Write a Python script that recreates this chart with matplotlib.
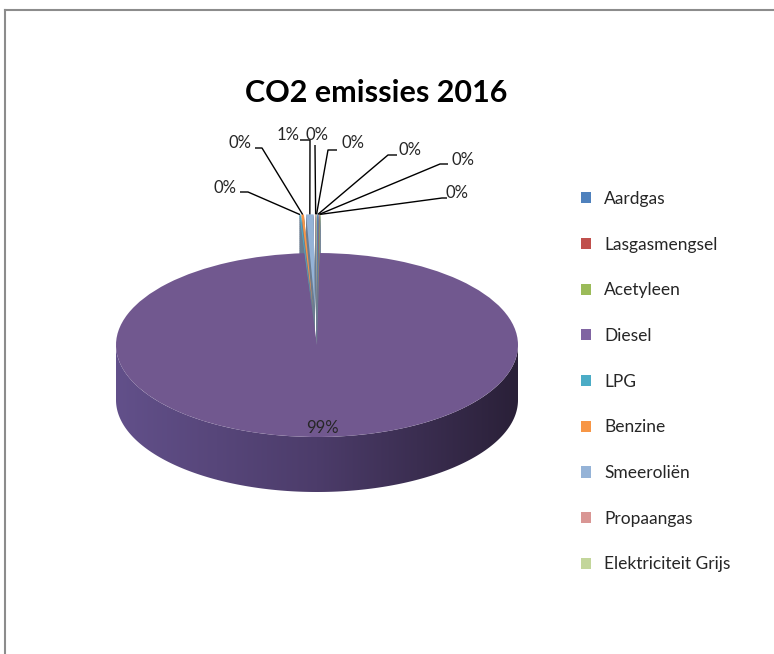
import numpy as np
import matplotlib
matplotlib.use('Agg')
import matplotlib.pyplot as plt
from matplotlib.transforms import Affine2D
from matplotlib.patches import Polygon, Patch
from matplotlib.lines import Line2D
from matplotlib.colors import to_rgb, LinearSegmentedColormap

plt.rcParams['font.family'] = ['Lato', 'DejaVu Sans']

# data
categories = ['Aardgas', 'Lasgasmengsel', 'Acetyleen', 'Diesel', 'LPG',
              'Benzine', 'Smeeroliën', 'Propaangas', 'Elektriciteit Grijs']
values = [0.1, 0.05, 0.05, 98.8, 0.1, 0.2, 0.6, 0.05, 0.05]
colors = ['#4F81BD', '#C0504D', '#9BBB59', '#8064A2', '#4BACC6',
          '#F79646', '#95B3D7', '#D99694', '#C3D69B']
title = 'CO2 emissies 2016'

total = sum(values)
pct_labels = [f'{round(v / total * 100):.0f}%' for v in values]

# layout (pixels, origin bottom-left)
W, H = 774, 654
cx, cy = 317, H - 345          # pie centre
rx, ry = 201, 92               # ellipse radii of top face
depth = 55                     # thickness of the pie
explode = [0.0 if v > 50 else 0.42 for v in values]

# label placement for the small slices (text centre, line start, elbow) in screen px (y down)
label_layout = {
    'LPG':        ((225, 188), (240, 192), (248, 192)),
    'Benzine':    ((240, 143), (255, 148), (262, 148)),
    'Smeeroliën': ((288, 135), (300, 140), (310, 140)),
    'Propaangas': ((317, 135), (315, 145), (315, 146)),
    'Elektriciteit Grijs': ((353, 143), (337, 150), (328, 150)),
    'Aardgas':    ((410, 150), (397, 155), (388, 155)),
    'Lasgasmengsel': ((463, 160), (448, 164), (440, 164)),
    'Acetyleen':  ((457, 193), (447, 198), (442, 198)),
}


def shade(c, f):
    r, g, b = to_rgb(c)
    return (r * f, g * f, b * f)


fig = plt.figure(figsize=(W / 100, H / 100), dpi=100)
ax = fig.add_axes([0, 0, 1, 1])


def draw_pie(dy, face, z):
    wedges, _ = ax.pie(values, explode=explode, startangle=90, counterclock=False,
                       colors=face, wedgeprops=dict(linewidth=0))
    tf = Affine2D().scale(rx, ry).translate(cx, cy - dy) + ax.transData
    for w in wedges:
        w.set_transform(tf)
        w.set_zorder(z)
    return wedges, tf


# side walls of the small (exploded) slices, grey-blue like the reference
side_cols = ['#6B7C90'] * len(values)
for k in range(depth, 0, -2):
    ws, _ = draw_pie(k, side_cols, 1)
    ws[3].set_visible(False)

# front side of the big slice with a horizontal gradient
t = np.linspace(np.pi, 2 * np.pi, 200)
top_edge = np.column_stack([cx + rx * np.cos(t), cy + ry * np.sin(t)])
bot_edge = np.column_stack([cx + rx * np.cos(t[::-1]), cy - depth + ry * np.sin(t[::-1])])
side_poly = Polygon(np.vstack([top_edge, bot_edge]), closed=True, facecolor='none',
                    edgecolor='none', zorder=2)
ax.add_patch(side_poly)
cmap = LinearSegmentedColormap.from_list('side', ['#62508A', '#4C3C6A', '#2A2038'])
grad = np.linspace(0, 1, 256).reshape(1, -1)
im = ax.imshow(grad, cmap=cmap, extent=(cx - rx, cx + rx, cy - ry - depth, cy),
               aspect='auto', zorder=2)
im.set_clip_path(side_poly)

# top faces
top_cols = [shade(c, 0.88) if i == 3 else c for i, c in enumerate(colors)]
top_wedges, top_tf = draw_pie(0, top_cols, 3)
for i, w in enumerate(top_wedges):
    if i != 3:
        w.set_zorder(4)

# data labels
for i, w in enumerate(top_wedges):
    if values[i] > 50:
        ax.text(cx + 5, H - 428, pct_labels[i], ha='center', va='center',
                fontsize=12, color='#262626', zorder=6)
        continue
    mid = np.deg2rad((w.theta1 + w.theta2) / 2)
    anchor = top_tf.transform((w.center[0] + np.cos(mid), w.center[1] + np.sin(mid)))
    anchor = ax.transData.inverted().transform(anchor)
    (tx, ty), (sx, sy), (ex, ey) = label_layout[categories[i]]
    ax.plot([sx, ex, anchor[0]], [H - sy, H - ey, anchor[1]], color='black',
            lw=1.0, zorder=5, solid_capstyle='butt')
    ax.text(tx, H - ty, pct_labels[i], ha='center', va='center', fontsize=12,
            color='#262626', zorder=6)

ax.set_xlim(0, W)
ax.set_ylim(0, H)
ax.set_aspect('auto')
ax.axis('off')

ax.text(376, H - 93, title, ha='center', va='center', fontsize=22,
        fontweight='bold', color='black')

handles = [Patch(facecolor=c, edgecolor='none') for c in colors]
fig.legend(handles, categories, loc='upper left', bbox_to_anchor=(581 / W, 1 - 191 / H),
           frameon=False, fontsize=12.5, handlelength=0.6, handleheight=0.6,
           handletextpad=0.75, labelspacing=1.71, borderpad=0, borderaxespad=0,
           labelcolor='#262626')

# chart area border (only top and left visible)
fig.add_artist(Line2D([5 / W, 5 / W], [0, 1 - 10 / H], color='#8C8C8C', lw=1.5))
fig.add_artist(Line2D([5 / W, 1], [1 - 10 / H, 1 - 10 / H], color='#8C8C8C', lw=1.5))

fig.savefig('out.png', dpi=100)
